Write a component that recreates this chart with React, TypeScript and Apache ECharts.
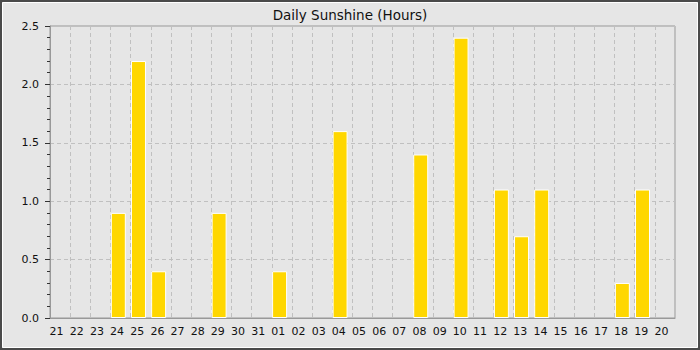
import React, { useEffect, useRef } from "react";
import * as echarts from "echarts";

const days = ["21","22","23","24","25","26","27","28","29","30","31","01","02","03","04","05","06","07","08","09","10","11","12","13","14","15","16","17","18","19","20"];
const sunshine = [0,0,0,0.9,2.2,0.4,0,0,0.9,0,0,0.4,0,0,1.6,0,0,0,1.4,0,2.4,0,1.1,0.7,1.1,0,0,0,0.3,1.1,0];
const titleText = "Daily Sunshine (Hours)";

export default function App() {
  const ref = useRef<HTMLDivElement>(null);
  useEffect(() => {
    if (!ref.current) return;
    const chart = echarts.init(ref.current, null, { renderer: "svg" });
    const font = "DejaVu Sans";
    const barData = sunshine.map((v) => (v > 0 ? v : "-"));
    const spacer = days.map(() => "-");
    chart.setOption({
      animation: false,
      backgroundColor: "#e6e6e6",
      textStyle: { fontFamily: font },
      title: {
        text: titleText,
        left: "center",
        top: 3,
        textStyle: { fontFamily: font, fontSize: 13.5, fontWeight: "normal", color: "#111" },
      },
      graphic: [
        { type: "rect", shape: { x: 1, y: 1, width: 698, height: 348 }, style: { fill: "none", stroke: "#4a4a4a", lineWidth: 2.5 }, silent: true },
        { type: "rect", shape: { x: 2.5, y: 2.5, width: 695, height: 345 }, style: { fill: "none", stroke: "#ffffff", lineWidth: 1 }, silent: true },
      ],
      grid: { left: 50, top: 26, width: 625, height: 292, show: true, borderColor: "#999", borderWidth: 1, backgroundColor: "transparent" },
      xAxis: {
        type: "category",
        data: days,
        boundaryGap: true,
        axisLine: { lineStyle: { color: "#999" } },
        axisTick: { show: false },
        axisLabel: { interval: 0, fontSize: 11, color: "#111", margin: 8, padding: [0, 7, 0, 0], fontFamily: font },
        splitLine: { show: true, interval: 0, lineStyle: { color: "#c0c0c0", type: [4, 3] } },
      },
      yAxis: {
        type: "value",
        min: 0,
        max: 2.5,
        interval: 0.5,
        axisLine: { show: true, lineStyle: { color: "#999" } },
        axisTick: { show: true, length: 5, lineStyle: { color: "#333" } },
        minorTick: { show: true, splitNumber: 5, length: 3, lineStyle: { color: "#333" } },
        axisLabel: { fontSize: 11, color: "#111", margin: 11, fontFamily: font, formatter: (v: number) => v.toFixed(1) },
        splitLine: { show: true, lineStyle: { color: "#c0c0c0", type: [4, 3] } },
      },
      series: [
        {
          type: "bar",
          data: barData,
          barWidth: 15,
          barGap: "0%",
          itemStyle: { color: "#ffd700", borderColor: "#ffffff", borderWidth: 1 },
        },
        {
          type: "bar",
          data: spacer,
          barWidth: 4.5,
          barGap: "0%",
          itemStyle: { color: "transparent", borderWidth: 0 },
          silent: true,
        },
      ],
    });
    return () => chart.dispose();
  }, []);
  return <div ref={ref} style={{ position: "absolute", left: 0, top: 0, width: 700, height: 350 }} />;
}
